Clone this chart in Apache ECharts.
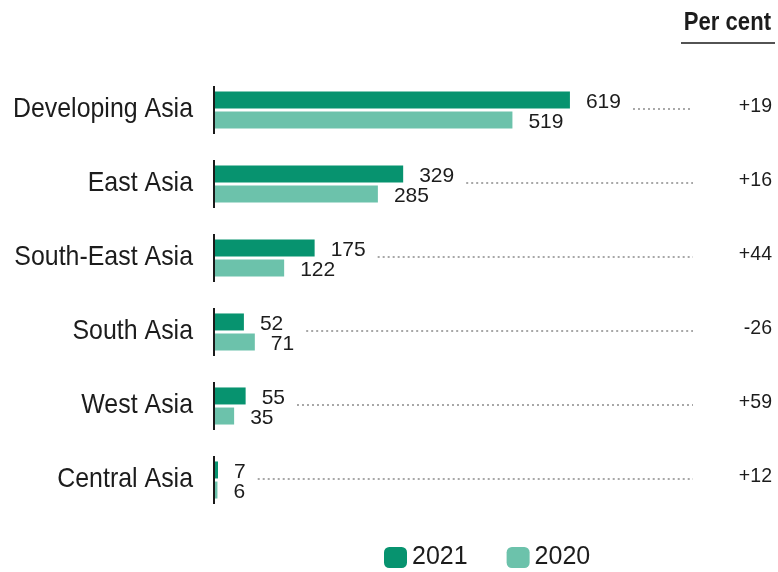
<!DOCTYPE html>
<html>
<head>
<meta charset="utf-8">
<script src="https://cdn.jsdelivr.net/npm/echarts@6/dist/echarts.min.js"></script>
<style>
  html, body { margin: 0; padding: 0; background: #ffffff; }
  #chart { width: 778px; height: 572px; }
</style>
</head>
<body>
<div id="chart"></div>
<script>
// Greenfield FDI announcements by region (billions of dollars)
const regions = ['Developing Asia', 'East Asia', 'South-East Asia', 'South Asia', 'West Asia', 'Central Asia'];
const values2021 = [619, 329, 175, 52, 55, 7];
const values2020 = [519, 285, 122, 71, 35, 6];
const pctChange = [19, 16, 44, -26, 59, 12];
const seriesNames = ['2021', '2020'];

const FONT = '"Liberation Sans", Arial, sans-serif';
const COLOR_2021 = '#07936f';
const COLOR_2020 = '#6cc2ab';
const TEXT = '#1c1c1c';
const VALUE_SIZE = 21;
const LABEL_GAP = 16;

const measureCtx = document.createElement('canvas').getContext('2d');
function textWidth(str, size) {
  measureCtx.font = size + 'px ' + FONT;
  return measureCtx.measureText(str).width;
}

const chart = echarts.init(document.getElementById('chart'), null, { renderer: 'canvas' });

// one guide row per region: condensed region name, short axis stub,
// dotted leader and the per-cent change at the right edge
const guideData = regions.map((r, i) => [Math.max(values2021[i], values2020[i]), i, pctChange[i]]);

function renderGuide(params, api) {
  const maxVal = api.value(0);
  const idx = api.value(1);
  const pct = api.value(2);
  const origin = api.coord([0, idx]);
  const cy = origin[1];
  const barEnd = api.coord([maxVal, idx])[0];
  const cs = params.coordSys;
  const startX = barEnd + LABEL_GAP + textWidth(String(maxVal), VALUE_SIZE) + 12;
  const endX = cs.x + cs.width + 19;
  const W = api.getWidth();
  return {
    type: 'group',
    children: [
      {
        type: 'text',
        x: origin[0] - 21,
        y: cy - 1,
        scaleX: 0.89,
        style: {
          text: regions[idx],
          font: '28px ' + FONT,
          fill: TEXT,
          align: 'right',
          verticalAlign: 'middle'
        }
      },
      {
        type: 'line',
        shape: { x1: origin[0], y1: cy - 24, x2: origin[0], y2: cy + 24 },
        style: { stroke: '#1a1a1a', lineWidth: 2 }
      },
      {
        type: 'line',
        shape: { x1: startX, y1: cy - 1, x2: endX, y2: cy - 1 },
        style: { stroke: '#8a8a8a', lineWidth: 1.6, lineDash: [2, 3] }
      },
      {
        type: 'text',
        x: W - 6,
        y: cy - 4,
        scaleX: 0.93,
        style: {
          text: (pct > 0 ? '+' : '') + pct,
          font: VALUE_SIZE + 'px ' + FONT,
          fill: TEXT,
          align: 'right',
          verticalAlign: 'middle'
        }
      }
    ]
  };
}

const option = {
  backgroundColor: '#ffffff',
  animation: false,
  grid: { left: 214, top: 73, width: 460, height: 444, containLabel: false },
  xAxis: {
    type: 'value', min: 0, max: 800, show: false
  },
  yAxis: {
    type: 'category',
    data: regions,
    inverse: true,
    axisLine: { show: false },
    axisTick: { show: false },
    splitLine: { show: false },
    axisLabel: { show: false }
  },
  legend: {
    data: seriesNames,
    left: 379,
    top: 540,
    itemWidth: 23,
    itemHeight: 21,
    itemGap: 39,
    icon: 'roundRect',
    textStyle: { color: TEXT, fontSize: 25, fontFamily: FONT }
  },
  graphic: [
    {
      type: 'text',
      x: 771,
      y: 23,
      scaleX: 0.85,
      style: {
        text: 'Per cent', font: 'bold 26px ' + FONT, fill: TEXT,
        align: 'right', verticalAlign: 'middle'
      }
    },
    {
      type: 'line',
      shape: { x1: 681, y1: 43, x2: 775, y2: 43 },
      style: { stroke: '#1a1a1a', lineWidth: 1.6 }
    }
  ],
  series: [
    {
      name: seriesNames[0],
      type: 'bar',
      data: values2021,
      barWidth: 17,
      barGap: '18%',
      itemStyle: { color: COLOR_2021 },
      label: {
        show: true, position: 'right', distance: LABEL_GAP, offset: [0, 2],
        color: TEXT, fontSize: VALUE_SIZE, fontFamily: FONT
      }
    },
    {
      name: seriesNames[1],
      type: 'bar',
      data: values2020,
      barWidth: 17,
      itemStyle: { color: COLOR_2020 },
      label: {
        show: true, position: 'right', distance: LABEL_GAP, offset: [0, 2],
        color: TEXT, fontSize: VALUE_SIZE, fontFamily: FONT
      }
    },
    {
      type: 'custom',
      name: 'guides',
      data: guideData,
      encode: { x: 0, y: 1 },
      clip: false,
      silent: true,
      z: 5,
      renderItem: renderGuide
    }
  ]
};

chart.setOption(option);
</script>
</body>
</html>
